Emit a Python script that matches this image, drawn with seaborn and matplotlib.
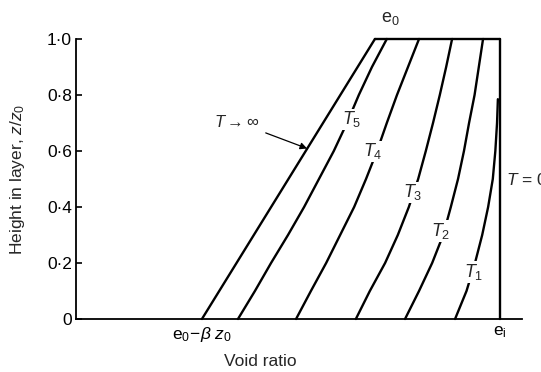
import numpy as np
import pandas as pd
import matplotlib
matplotlib.use("Agg")
import matplotlib.pyplot as plt
import seaborn as sns

# ---- data (void ratio normalised so that e_i = 1.0) ----
z_levels = [0.0, 0.1, 0.2, 0.3, 0.4, 0.5, 0.6, 0.7, 0.8, 0.9, 1.0]
T_inf_void = [0.297, 0.705]
T_inf_z = [0.0, 1.0]
T5_void = [0.382, 0.422, 0.460, 0.500, 0.538, 0.573, 0.608, 0.639, 0.667, 0.698, 0.733]
T4_void = [0.519, 0.554, 0.590, 0.623, 0.656, 0.684, 0.710, 0.733, 0.757, 0.783, 0.809]
T3_void = [0.660, 0.693, 0.729, 0.759, 0.785, 0.807, 0.825, 0.842, 0.858, 0.873, 0.887]
T2_void = [0.776, 0.809, 0.840, 0.866, 0.884, 0.901, 0.915, 0.927, 0.940, 0.950, 0.960]
T1_void = [0.894, 0.921, 0.941, 0.958, 0.972, 0.983, 0.989, 0.993, 0.995]
T1_z = [0.0, 0.1, 0.2, 0.3, 0.4, 0.5, 0.6, 0.7, 0.785]
T0_void = [1.0, 1.0]
T0_z = [0.0, 1.0]
top_void = [0.705, 1.0]
top_z = [1.0, 1.0]

y_ticks = [0.0, 0.2, 0.4, 0.6, 0.8, 1.0]
y_tick_labels = ["0", "0·2", "0·4", "0·6", "0·8", "1·0"]
x_ticks = [0.297, 1.0]
x_tick_labels = [r"$\mathrm{e}_0\!-\!\beta\ z_0$", r"$\mathrm{e}_\mathrm{i}$"]

curves = {
    "Tinf": (T_inf_void, T_inf_z),
    "T5": (T5_void, z_levels),
    "T4": (T4_void, z_levels),
    "T3": (T3_void, z_levels),
    "T2": (T2_void, z_levels),
    "T1": (T1_void, T1_z),
    "T0": (T0_void, T0_z),
    "top": (top_void, top_z),
}
rows = []
for name, (xs, zs) in curves.items():
    for i, (xv, zv) in enumerate(zip(xs, zs)):
        rows.append({"curve": name, "void": xv, "z": zv, "order": i})
df = pd.DataFrame(rows)

# ---- style ----
sns.set_style("ticks")
plt.rcParams["font.family"] = ["Liberation Sans", "DejaVu Sans"]
plt.rcParams["mathtext.fontset"] = "custom"
plt.rcParams["mathtext.rm"] = "Liberation Sans"
plt.rcParams["mathtext.it"] = "Liberation Sans:italic"
plt.rcParams["mathtext.bf"] = "Liberation Sans:bold"

fig = plt.figure(figsize=(5.41, 3.72), dpi=100)
ax = fig.add_axes([0.1405, 0.1425, 0.8244, 0.7527])

sns.lineplot(data=df, x="void", y="z", units="curve", estimator=None,
             sort=False, color="black", linewidth=1.7, ax=ax, clip_on=False)

ax.set_xlim(0, 1.0519)
ax.set_ylim(0, 1.0)
sns.despine(ax=ax)
for s in ["left", "bottom"]:
    ax.spines[s].set_linewidth(1.3)
    ax.spines[s].set_color("black")

ax.set_yticks(y_ticks)
ax.set_yticklabels(y_tick_labels, fontsize=12.5)
ax.set_xticks(x_ticks)
ax.set_xticklabels(x_tick_labels, fontsize=12.5)
ax.tick_params(axis="y", direction="in", length=4, width=1.2, pad=3, colors="black")
ax.tick_params(axis="x", length=0, pad=4, colors="black")

ax.set_xlabel("Void ratio", fontsize=12.5)
ax.set_ylabel("Height in layer, $z/z_0$", fontsize=12.5)
ax.xaxis.set_label_coords(0.4126, -0.125)
ax.yaxis.set_label_coords(-0.11, 0.5)

box = dict(facecolor="white", edgecolor="none", pad=0.5)
labels = [
    (r"$T_5$", 0.651, 0.713),
    (r"$T_4$", 0.700, 0.599),
    (r"$T_3$", 0.795, 0.452),
    (r"$T_2$", 0.861, 0.315),
    (r"$T_1$", 0.939, 0.168),
]
for txt, xv, zv in labels:
    ax.text(xv, zv, txt, fontsize=13, ha="center", va="center", bbox=box, zorder=5)

ax.annotate(r"$T \rightarrow \infty$", xy=(0.545, 0.609), xytext=(0.380, 0.703),
            fontsize=12, ha="center", va="center",
            arrowprops=dict(arrowstyle="-|>", color="black", lw=0.9,
                            mutation_scale=10, shrinkA=2, shrinkB=0))
ax.text(0.741, 1.072, r"$\mathrm{e}_0$", fontsize=13, ha="center", va="center",
        clip_on=False)
ax.text(1.013, 0.498, r"$T$ = 0", fontsize=12.5, ha="left", va="center",
        clip_on=False)

fig.savefig("out.png", dpi=100)
